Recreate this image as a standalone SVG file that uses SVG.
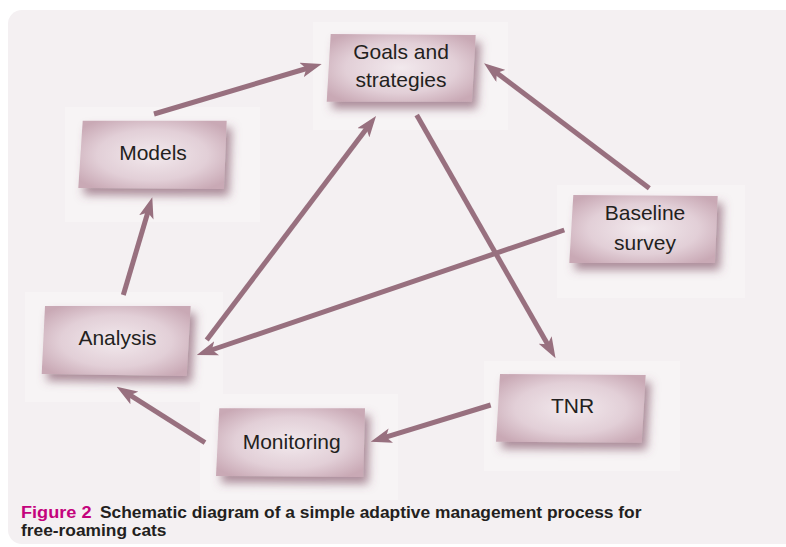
<svg xmlns="http://www.w3.org/2000/svg" width="786" height="547" viewBox="0 0 786 547">
  <defs>
    <radialGradient id="boxFill" cx="0.5" cy="0.5" r="0.62">
      <stop offset="0" stop-color="#f2e9ed"/>
      <stop offset="0.6" stop-color="#e2cfd7"/>
      <stop offset="1" stop-color="#c9a9b5"/>
    </radialGradient>
    <filter id="boxShadow" x="-20%" y="-20%" width="150%" height="160%">
      <feDropShadow dx="5" dy="7" stdDeviation="5" flood-color="#7a4a5f" flood-opacity="0.6"/>
    </filter>
    <marker id="head" markerUnits="userSpaceOnUse" viewBox="0 0 21 15" markerWidth="21" markerHeight="15" refX="7" refY="7.5" orient="auto">
      <path d="M0,0 L21,7.5 L0,15 L5,7.5 Z" fill="#98707f"/>
    </marker>
    <style>
      .panel { fill: #f4f0f2; }
      .halo { fill: #f7f4f5; }
      .box { fill: url(#boxFill); filter: url(#boxShadow); }
      .label { font-family: "Liberation Sans", Arial, sans-serif; font-size: 21px; fill: #231f20; text-anchor: middle; }
      .edge { stroke: #98707f; stroke-width: 5; fill: none; marker-end: url(#head); }
      .cap { font-family: "Liberation Sans", Arial, sans-serif; font-weight: bold; font-size: 16px; }
    </style>
  </defs>

  <rect x="0" y="0" width="786" height="547" fill="#ffffff"/>
  <rect class="panel" x="8" y="10" width="800" height="534" rx="14"/>

  <!-- faint light backing squares behind the boxes -->
  <g id="halos">
    <rect class="halo" x="313" y="22" width="195" height="108"/>
    <rect class="halo" x="65" y="107" width="195" height="115"/>
    <rect class="halo" x="557" y="185" width="188" height="113"/>
    <rect class="halo" x="25" y="292" width="198" height="110"/>
    <rect class="halo" x="200" y="394" width="198" height="106"/>
    <rect class="halo" x="484" y="361" width="196" height="110"/>
  </g>

  <g id="connectors">
    <path class="edge" d="M154,114 L308.3,68"/>
    <path class="edge" d="M123.3,295 L148.3,210.7"/>
    <path class="edge" d="M206.7,340 L367.6,127.2"/>
    <path class="edge" d="M649.3,188.3 L495.2,71.7"/>
    <path class="edge" d="M416.7,115 L548.6,346.1"/>
    <path class="edge" d="M564.3,230 L210,350.5"/>
    <path class="edge" d="M490.7,405 L384.1,437.6"/>
    <path class="edge" d="M205,442.7 L128.5,394.2"/>
  </g>

  <g id="goals">
    <polygon class="box" points="330.7,34 475.7,35 472,101.7 326.7,101.7"/>
    <text class="label" x="401" y="58.5">Goals and</text>
    <text class="label" x="401" y="87">strategies</text>
  </g>
  <g id="models">
    <polygon class="box" points="82.7,120.7 226.7,120.7 224,189 78.3,188"/>
    <text class="label" x="153" y="160">Models</text>
  </g>
  <g id="baseline">
    <polygon class="box" points="573.3,195 717.7,196 715,263 569.3,263"/>
    <text class="label" x="645" y="220">Baseline</text>
    <text class="label" x="645" y="250">survey</text>
  </g>
  <g id="analysis">
    <polygon class="box" points="45,306 190.7,306 186.7,376 41.7,374"/>
    <text class="label" x="117.5" y="345">Analysis</text>
  </g>
  <g id="monitoring">
    <polygon class="box" points="219.3,408.3 365,408.3 363.3,477 216,476"/>
    <text class="label" x="291.7" y="449.3">Monitoring</text>
  </g>
  <g id="tnr">
    <polygon class="box" points="500,374 645.7,375 641.7,442.7 496,441.7"/>
    <text class="label" x="572.5" y="412.7">TNR</text>
  </g>

  <g id="caption">
    <text class="cap" x="21" y="518" fill="#c4037d" textLength="70.5" lengthAdjust="spacingAndGlyphs">Figure 2</text>
    <text class="cap" x="100" y="518" fill="#231f20" textLength="541.5" lengthAdjust="spacingAndGlyphs">Schematic diagram of a simple adaptive management process for</text>
    <text class="cap" x="21" y="536" fill="#231f20" textLength="145.5" lengthAdjust="spacingAndGlyphs">free-roaming cats</text>
  </g>
</svg>
